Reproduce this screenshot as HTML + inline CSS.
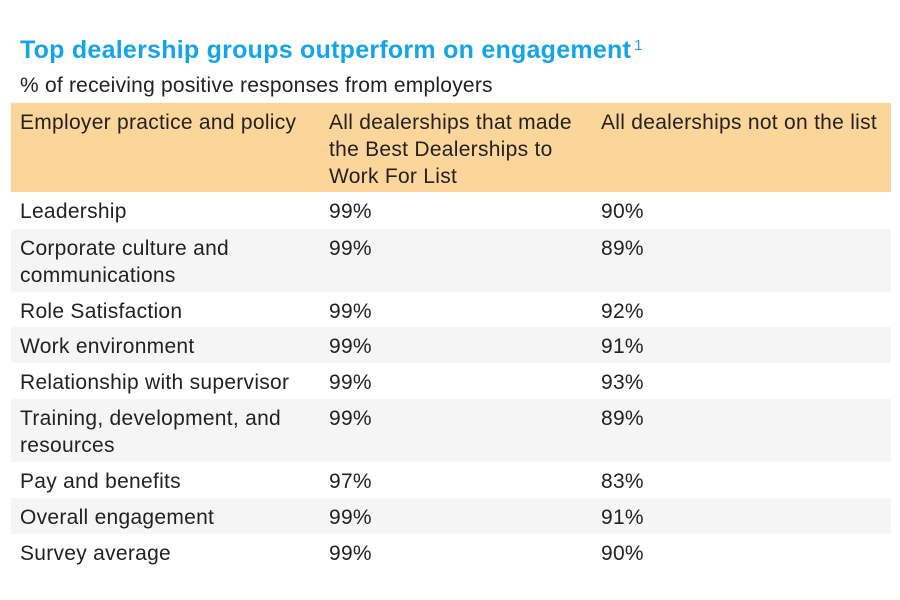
<!DOCTYPE html>
<html>
<head>
<meta charset="utf-8">
<style>
  html, body { margin: 0; padding: 0; background: #ffffff; }
  body { width: 900px; height: 600px; position: relative; overflow: hidden;
         font-family: "Liberation Sans", Arial, sans-serif; color: #222222; }
  .title { position: absolute; left: 20px; top: 35px; font-size: 25px; line-height: 30px;
           font-weight: bold; color: #15a4e9; white-space: nowrap; letter-spacing: 0.25px; }
  .title sup { font-size: 15px; font-weight: normal; vertical-align: 8px; line-height: 0; margin-left: 3px; }
  .sub { position: absolute; left: 20px; top: 72px; font-size: 21px; line-height: 27px; white-space: nowrap; letter-spacing: 0.22px; }
  .row { position: absolute; left: 11px; width: 880px; }
  .hdr { background: #fcd59b; }
  .gray { background: #f5f5f5; }
  .c { position: absolute; top: 6px; font-size: 21px; line-height: 27px; white-space: nowrap; letter-spacing: 0.28px; }
  .c1 { left: 9px; }
  .c2 { left: 318px; }
  .c3 { left: 590px; }
</style>
</head>
<body>
  <div class="title">Top dealership groups outperform on engagement<sup>1</sup></div>
  <div class="sub">% of receiving positive responses from employers</div>

  <div class="row hdr" style="top:103px;height:89px;">
    <div class="c c1">Employer practice and policy</div>
    <div class="c c2">All dealerships that made<br>the Best Dealerships to<br>Work For List</div>
    <div class="c c3">All dealerships not on the list</div>
  </div>

  <div class="row" style="top:192px;height:37px;">
    <div class="c c1">Leadership</div><div class="c c2">99%</div><div class="c c3">90%</div>
  </div>
  <div class="row gray" style="top:229px;height:63px;">
    <div class="c c1">Corporate culture and<br>communications</div><div class="c c2">99%</div><div class="c c3">89%</div>
  </div>
  <div class="row" style="top:292px;height:35px;">
    <div class="c c1">Role Satisfaction</div><div class="c c2">99%</div><div class="c c3">92%</div>
  </div>
  <div class="row gray" style="top:327px;height:36px;">
    <div class="c c1">Work environment</div><div class="c c2">99%</div><div class="c c3">91%</div>
  </div>
  <div class="row" style="top:363px;height:36px;">
    <div class="c c1">Relationship with supervisor</div><div class="c c2">99%</div><div class="c c3">93%</div>
  </div>
  <div class="row gray" style="top:399px;height:63px;">
    <div class="c c1">Training, development, and<br>resources</div><div class="c c2">99%</div><div class="c c3">89%</div>
  </div>
  <div class="row" style="top:462px;height:36px;">
    <div class="c c1">Pay and benefits</div><div class="c c2">97%</div><div class="c c3">83%</div>
  </div>
  <div class="row gray" style="top:498px;height:36px;">
    <div class="c c1">Overall engagement</div><div class="c c2">99%</div><div class="c c3">91%</div>
  </div>
  <div class="row" style="top:534px;height:36px;">
    <div class="c c1">Survey average</div><div class="c c2">99%</div><div class="c c3">90%</div>
  </div>
</body>
</html>
